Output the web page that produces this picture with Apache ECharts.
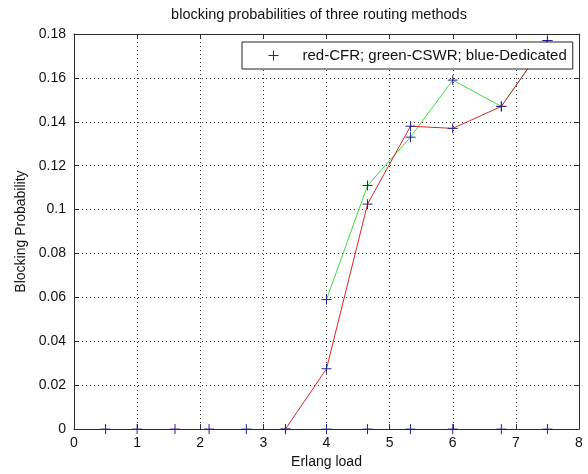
<!DOCTYPE html>
<html>
<head>
<meta charset="utf-8">
<script src="https://cdn.jsdelivr.net/npm/echarts@6/dist/echarts.min.js"></script>
<style>
  html, body { margin: 0; padding: 0; background: #fff; }
  #chart { width: 588px; height: 474px; }
</style>
</head>
<body>
<div id="chart"></div>
<script>
// Offered traffic (Erlang) at which each routing method was simulated
const loads = [0.5, 1.0, 1.6, 2.14, 2.73, 3.35, 4.0, 4.65, 5.33, 6.0, 6.77, 7.5];
// Blocking probability per method (null = not measured / not plotted)
const cfr       = [null, null, null, null, null, 0, 0.0275, 0.1025, 0.138, 0.137, 0.147, 0.177];
const cswr      = [null, null, null, null, null, null, 0.059, 0.111, 0.133, 0.159, 0.147, 0.177];
const dedicated = [0, 0, 0, 0, 0, 0, 0, 0, 0, 0, 0, 0];

const legendText = 'red-CFR; green-CSWR; blue-Dedicated';
const xRange = { min: 0, max: 8, interval: 1 };
const yRange = { min: 0, max: 0.18, interval: 0.02 };

const FONT = 'Liberation Sans, Arial, Helvetica, sans-serif';
const AXIS_COLOR = '#2b2b2b';
const GRID_LINE = { show: true, lineStyle: { color: '#333', width: 1, type: [1, 3] } };
const PLUS = 'path://M0,5L10,5M5,0L5,10';

function pairs(ys) {
  const out = [];
  loads.forEach((x, i) => { if (ys[i] != null) out.push([x, ys[i]]); });
  return out;
}

const chart = echarts.init(document.getElementById('chart'), null, { renderer: 'canvas' });

const baseAxis = {
  axisLine: { show: true, onZero: false, lineStyle: { color: AXIS_COLOR, width: 1 } },
  axisTick: { show: true, inside: true, length: 5, lineStyle: { color: AXIS_COLOR } },
  splitLine: { show: false }
};

chart.setOption({
  animation: false,
  backgroundColor: '#ffffff',
  title: {
    text: 'blocking probabilities of three routing methods',
    left: 319,
    top: 7,
    padding: 0,
    textAlign: 'center',
    textStyle: { fontFamily: FONT, fontSize: 14.5, fontWeight: 'normal', color: '#111' }
  },
  grid: { left: 74, right: 9, top: 34, bottom: 40, containLabel: false },
  legend: {
    data: [{
      name: legendText,
      icon: PLUS,
      itemStyle: { color: 'transparent', borderColor: '#23238f', borderWidth: 1 }
    }],
    left: 242,
    top: 42,
    orient: 'horizontal',
    itemWidth: 10,
    itemHeight: 10,
    padding: [6, 6, 6, 26],
    backgroundColor: '#ffffff',
    borderColor: '#222',
    borderWidth: 1,
    borderRadius: 0,
    selectedMode: false,
    textStyle: { fontFamily: FONT, fontSize: 15, color: '#111', padding: [0, 0, 0, 19] }
  },
  xAxis: [
    Object.assign({}, baseAxis, {
      type: 'value', position: 'bottom', min: xRange.min, max: xRange.max, interval: xRange.interval,
      name: 'Erlang load', nameLocation: 'middle', nameGap: 24,
      nameTextStyle: { fontFamily: FONT, fontSize: 14, color: '#111' },
      axisLabel: {
        show: true, margin: 7, fontFamily: FONT, fontSize: 14, color: '#111',
        alignMinLabel: 'center', alignMaxLabel: 'center', hideOverlap: false
      },
      splitLine: GRID_LINE
    }),
    Object.assign({}, baseAxis, {
      type: 'value', position: 'top', min: xRange.min, max: xRange.max, interval: xRange.interval,
      axisLabel: { show: false }
    })
  ],
  yAxis: [
    Object.assign({}, baseAxis, {
      type: 'value', position: 'left', min: yRange.min, max: yRange.max, interval: yRange.interval,
      name: 'Blocking Probability', nameLocation: 'middle', nameGap: 39, nameRotate: 90,
      nameTextStyle: { fontFamily: FONT, fontSize: 14, color: '#111' },
      axisLabel: {
        show: true, margin: 8, fontFamily: FONT, fontSize: 14, color: '#111',
        formatter: v => String(parseFloat(v.toFixed(2)))
      },
      splitLine: GRID_LINE
    }),
    Object.assign({}, baseAxis, {
      type: 'value', position: 'right', min: yRange.min, max: yRange.max, interval: yRange.interval,
      axisLabel: { show: false }
    })
  ],
  series: [
    {
      name: 'CSWR',
      type: 'line',
      data: pairs(cswr),
      showSymbol: false,
      symbol: 'none',
      lineStyle: { color: '#3fdc3f', width: 1 },
      itemStyle: { color: '#3fdc3f' },
      z: 2
    },
    {
      name: 'CFR',
      type: 'line',
      data: pairs(cfr),
      showSymbol: false,
      symbol: 'none',
      lineStyle: { color: '#d42a2a', width: 1 },
      itemStyle: { color: '#d42a2a' },
      z: 2
    },
    {
      name: legendText,
      type: 'scatter',
      data: pairs(cfr).concat(pairs(cswr), pairs(dedicated)),
      symbol: PLUS,
      symbolSize: 10,
      itemStyle: { color: 'transparent', borderColor: '#23238f', borderWidth: 1, opacity: 1 },
      z: 3
    }
  ]
});
</script>
</body>
</html>
